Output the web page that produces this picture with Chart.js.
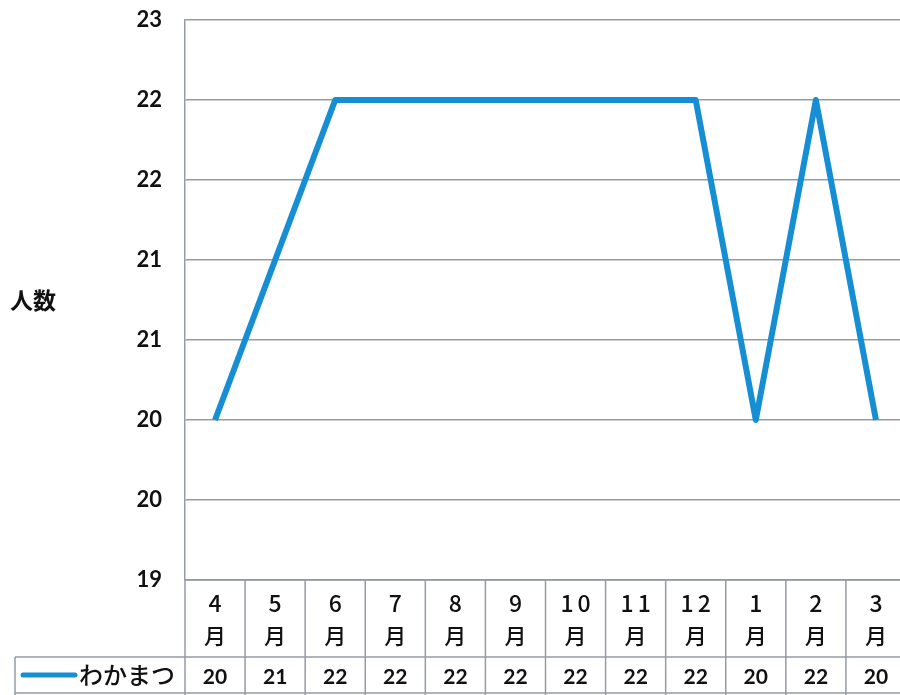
<!DOCTYPE html>
<html lang="ja">
<head>
    <meta charset="UTF-8">
    <title>わかまつ 人数</title>
    <script src="https://cdn.jsdelivr.net/npm/chart.js"></script>
    <style>
        html, body { margin: 0; padding: 0; overflow: hidden; background: #fff; }
        #wrap { width: 906px; height: 695px; }
    </style>
</head>
<body>
    <div id="wrap"><canvas id="chart" width="906" height="695"></canvas></div>

    <script>
        // months and counts
        const monthNums = ['4', '5', '6', '7', '8', '9', '10', '11', '12', '1', '2', '3'];
        const monthSuffix = '月';
        const wakamatsu = [20, 21, 22, 22, 22, 22, 22, 22, 22, 20, 22, 20];
        const seriesName = 'わかまつ';
        const yTitle = '人数';
        const yMin = 19, yMax = 22.5, yStep = 0.5;

        const lineColor = 'rgb(22, 142, 212)';
        const gridColor = '#959ba5';
        const numFont = 'Lato, "Noto Sans", sans-serif';
        const jpFont = '"Noto Sans CJK JP", sans-serif';

        // draws the Excel style data table under the plot and the y title
        const tablePlugin = {
            id: 'dataTable',
            afterDraw(chart) {
                const ctx = chart.ctx;
                const x = chart.scales.x;
                const area = chart.chartArea;
                const top = area.bottom;
                const mid = 657;
                const bot = 693;
                const half = (x.getPixelForValue(1) - x.getPixelForValue(0)) / 2;
                const right = x.getPixelForValue(monthNums.length - 1) + half;

                ctx.save();
                ctx.strokeStyle = gridColor;
                ctx.lineWidth = 1.5;
                ctx.beginPath();
                ctx.moveTo(area.left, top); ctx.lineTo(right, top);
                ctx.moveTo(15, mid); ctx.lineTo(right, mid);
                ctx.moveTo(15, bot); ctx.lineTo(right, bot);
                ctx.moveTo(15, mid); ctx.lineTo(15, 695);
                ctx.moveTo(area.left, top); ctx.lineTo(area.left, 695);
                monthNums.forEach((m, i) => {
                    const bx = x.getPixelForValue(i) + half;
                    ctx.moveTo(bx, top); ctx.lineTo(bx, 695);
                });
                ctx.stroke();

                ctx.fillStyle = '#111';
                ctx.textAlign = 'center';
                ctx.textBaseline = 'middle';
                monthNums.forEach((m, i) => {
                    const cx = x.getPixelForValue(i);
                    ctx.font = '500 23px ' + jpFont;
                    ctx.letterSpacing = m.length > 1 ? '4px' : '0px';
                    ctx.fillText(m, cx + (m.length > 1 ? 2 : 0), 603);
                    ctx.letterSpacing = '0px';
                    ctx.font = '500 22px ' + jpFont;
                    ctx.fillText(monthSuffix, cx, 636);
                    ctx.font = 'bold 21px ' + numFont;
                    ctx.fillText(String(wakamatsu[i]), cx, 677);
                });

                // legend key
                ctx.strokeStyle = lineColor;
                ctx.lineWidth = 5;
                ctx.lineCap = 'round';
                ctx.beginPath();
                ctx.moveTo(23, 675); ctx.lineTo(75, 675);
                ctx.stroke();
                ctx.textAlign = 'left';
                ctx.font = '500 24px ' + jpFont;
                ctx.fillText(seriesName, 79, 675);

                // y title, horizontal like the original
                ctx.font = 'bold 23px ' + jpFont;
                ctx.fillText(yTitle, 10, 300);
                ctx.restore();
            }
        };

        new Chart(document.getElementById('chart'), {
            type: 'line',
            data: {
                labels: monthNums.map(m => m + monthSuffix),
                datasets: [{
                    label: seriesName,
                    data: wakamatsu,
                    borderColor: lineColor,
                    borderWidth: 6,
                    borderJoinStyle: 'round',
                    pointRadius: 0,
                    tension: 0,
                    fill: false
                }]
            },
            options: {
                responsive: false,
                animation: false,
                layout: { padding: { top: 20, bottom: 115, left: 0, right: 0 } },
                plugins: { legend: { display: false }, tooltip: { enabled: false } },
                scales: {
                    x: {
                        display: false,
                        offset: true
                    },
                    y: {
                        min: yMin,
                        max: yMax,
                        afterFit(scale) {
                            scale.width = 185;
                            scale.paddingTop = 0;
                            scale.paddingBottom = 0;
                        },
                        grid: { color: gridColor, lineWidth: 1.5, drawTicks: false },
                        border: { display: true, color: gridColor, width: 1.5 },
                        ticks: {
                            stepSize: yStep,
                            padding: 23,
                            color: '#111',
                            font: { family: numFont, size: 22, weight: 'bold' },
                            callback: v => Math.round(v)
                        }
                    }
                }
            },
            plugins: [tablePlugin]
        });
    </script>
</body>
</html>
